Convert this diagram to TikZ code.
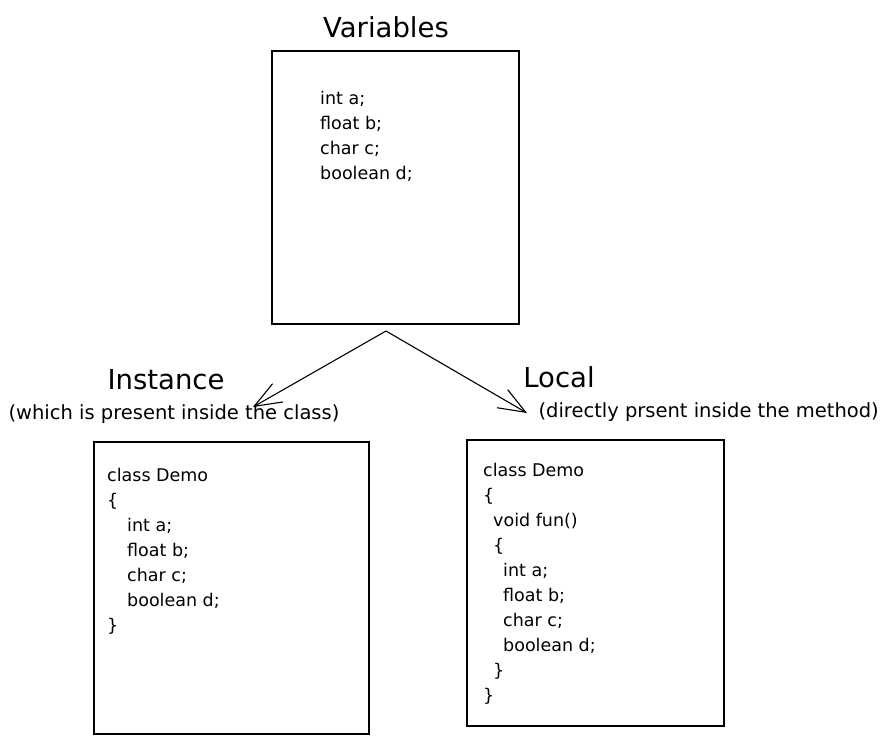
\documentclass[tikz,border=0pt]{standalone}
\usepackage{fontspec}
\setmainfont{DejaVu Sans}
\usetikzlibrary{
    arrows.meta,  % For arrow tips
    positioning   % For relative placement
}

\begin{document}
\begin{tikzpicture}[
    x=1pt, y=-1pt, % one unit is one pixel of the sketch, y runs downwards
    >={Straight Barb[length=27pt, width=21pt]}, % open hand-drawn tip
    box/.style={draw, line width=1.5pt, inner sep=0pt}, % Style for code boxes
    title/.style={font=\fontsize{27.5}{32}\selectfont}, % Big headings
    note/.style={font=\fontsize{19.5}{23}\selectfont}, % Remarks in brackets
    code/.style={align=left, inner sep=0pt, anchor=north west,
        font=\fontsize{17.5}{25}\selectfont}, % Code lines
    link/.style={->, line width=1.1pt} % Style for the two arrows
]
    \useasboundingbox (0,0) rectangle (889,745);

    % Top box: Variables
    \node[title] (varsTitle) at (386,27) {Variables};
    \node[box, anchor=north west, minimum width=247pt, minimum height=273pt] (vars) at (271,50) {};
    \node[code] (varsCode) at (320,91) {int a;\\float b;\\char c;\\boolean d;};

    % Left box: Instance
    \node[title] (instTitle) at (166,380) {Instance};
    \node[note, anchor=west] (instNote) at (5,414) {(which is present inside the class)};
    \node[box, anchor=north west, minimum width=275pt, minimum height=292pt] (inst) at (93,441) {};
    \node[code] (instCode) at (107,468) {class Demo\\\{\\
        \hspace*{20pt}int a;\\\hspace*{20pt}float b;\\\hspace*{20pt}char c;\\\hspace*{20pt}boolean d;\\\}};

    % Right box: Local
    \node[title] (localTitle) at (559,377) {Local};
    \node[note, anchor=west] (localNote) at (535,412) {(directly prsent inside the method)};
    \node[box, anchor=north west, minimum width=257pt, minimum height=286pt] (local) at (466,439) {};
    \node[code] (localCode) at (483,463) {class Demo\\\{\\
        \hspace*{10pt}void fun()\\\hspace*{10pt}\{\\
        \hspace*{20pt}int a;\\\hspace*{20pt}float b;\\\hspace*{20pt}char c;\\\hspace*{20pt}boolean d;\\
        \hspace*{10pt}\}\\\}};

    % Arrows from below the top box
    \coordinate (apex) at (386,331);
    \coordinate (instTip) at (253,407);
    \coordinate (localTip) at (527,413);
    \draw[link] (apex) -- (instTip);
    \draw[link] (apex) -- (localTip);

\end{tikzpicture}
\end{document}
